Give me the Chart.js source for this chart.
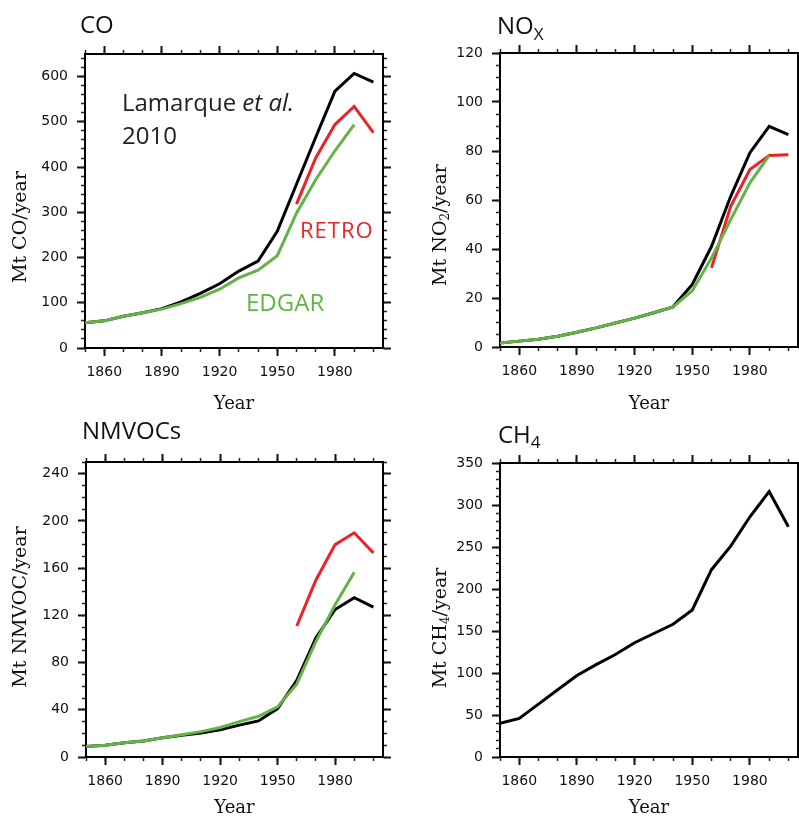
<!DOCTYPE html>
<html>
<head>
<meta charset="utf-8">
<script src="https://cdn.jsdelivr.net/npm/chart.js@4.4.1/dist/chart.umd.min.js"></script>
<style>
  html, body { margin: 0; padding: 0; background: #fff; }
  #wrap { position: relative; width: 799px; height: 817px; overflow: hidden; }
  canvas { position: absolute; }
</style>
</head>
<body>
<div id="wrap">
  <canvas id="co" width="400" height="410" style="left:0;top:0"></canvas>
  <canvas id="nox" width="399" height="410" style="left:400px;top:0"></canvas>
  <canvas id="voc" width="400" height="407" style="left:0;top:410px"></canvas>
  <canvas id="ch4" width="399" height="407" style="left:400px;top:410px"></canvas>
</div>
<script>
// decadal emissions
const years = [1850, 1860, 1870, 1880, 1890, 1900, 1910, 1920, 1930, 1940, 1950, 1960, 1970, 1980, 1990, 2000];

const coLamarque = [56, 60, 70, 78, 87, 102, 121, 142, 170, 192, 258, 362, 466, 568, 607, 588];
const coRetro    = [null, null, null, null, null, null, null, null, null, null, null, 318, 420, 494, 534, 476];
const coEdgar    = [56, 60, 70, 78, 86, 98, 112, 130, 155, 172, 204, 298, 372, 436, 494, null];

const noxLamarque = [1.6, 2.4, 3.2, 4.4, 6, 7.8, 9.8, 11.8, 14, 16.4, 25.5, 41, 61.5, 79.3, 90.1, 86.7];
const noxRetro    = [null, null, null, null, null, null, null, null, null, null, null, 32.3, 57.4, 72.4, 78.2, 78.5];
const noxEdgar    = [1.6, 2.4, 3.2, 4.4, 6, 7.8, 9.8, 11.8, 14, 16.4, 23, 36.3, 52, 67, 78.2, null];

const vocLamarque = [9, 10, 12, 13.6, 16.4, 18.4, 20.4, 23, 27, 30.6, 41, 65, 101, 125, 135, 127];
const vocRetro    = [null, null, null, null, null, null, null, null, null, null, null, 111, 150, 180, 190, 173];
const vocEdgar    = [9, 10, 12, 13.6, 16.4, 18.8, 21.5, 25, 30, 34.5, 42.5, 62, 98, 129, 156.5, null];

const ch4Lamarque = [40, 46, 63, 80, 97, 110, 122, 136, 147, 158, 175, 223, 251, 286, 316, 274];

// tick labels
const xMajorTicks = [1860, 1890, 1920, 1950, 1980];
const coYTicks  = [0, 100, 200, 300, 400, 500, 600];
const noxYTicks = [0, 20, 40, 60, 80, 100, 120];
const vocYTicks = [0, 40, 80, 120, 160, 200, 240];
const ch4YTicks = [0, 50, 100, 150, 200, 250, 300, 350];

const BLACK = '#000000', RED = '#ec2227', GREEN = '#62b446';

function range(a, b, step) {
  const out = [];
  for (let v = a; v <= b + 1e-9; v += step) out.push(v);
  return out;
}

function ticksAt(values) {
  return function (scale) { scale.ticks = values.map(v => ({ value: v })); };
}
function fixWidth(w) {
  return function (s) { s.width = w; s.paddingTop = 0; s.paddingBottom = 0; };
}
function fixHeight(h) {
  return function (s) { s.height = h; s.paddingLeft = 0; s.paddingRight = 0; };
}

// plain text drawn on top of the chart (titles, notes, y titles with subscripts)
function drawRich(ctx, it) {
  ctx.save();
  ctx.translate(it.x, it.y);
  if (it.rot) ctx.rotate(it.rot);
  ctx.textBaseline = it.base || 'alphabetic';
  ctx.textAlign = 'left';
  if (it.spacing) ctx.letterSpacing = it.spacing;
  let w = 0;
  it.parts.forEach(p => { ctx.font = p.font; w += ctx.measureText(p.t).width; });
  let cx = it.align === 'center' ? -w / 2 : 0;
  it.parts.forEach(p => {
    ctx.font = p.font;
    ctx.fillStyle = p.color || it.color || '#111';
    ctx.fillText(p.t, cx, p.dy || 0);
    cx += ctx.measureText(p.t).width;
  });
  ctx.restore();
}
function notes(items) {
  return { id: 'notes', afterDraw(chart) { items.forEach(it => drawRich(chart.ctx, it)); } };
}

const tickFont = { family: 'DejaVu Sans', size: 14 };
const majorGrid = { drawOnChartArea: false, drawTicks: true, tickLength: 8, tickWidth: 2, tickColor: '#111' };
const minorGrid = { drawOnChartArea: false, drawTicks: true, tickLength: 4, tickWidth: 1.5, tickColor: '#222' };
const border = { display: true, width: 2, color: '#000' };

function makePanel(id, p) {
  const xr = { type: 'linear', min: 1850, max: 2005 };
  const yr = { type: 'linear', min: 0, max: p.yMax };
  const xMinor = range(1850, 2000, 10);
  const yMinor = range(0, p.yMax, p.yMinorStep);
  const scales = {
    x: Object.assign({}, xr, {
      position: 'bottom', weight: 1,
      afterBuildTicks: ticksAt(xMajorTicks), afterFit: fixHeight(p.bottomH),
      grid: majorGrid, border: border,
      ticks: { font: tickFont, color: '#111', padding: 8, maxRotation: 0, autoSkip: false, callback: v => String(v) },
      title: { display: true, text: 'Year', color: '#111', font: { family: 'DejaVu Serif', size: 18 },
               padding: { top: 0, bottom: p.yearPad } }
    }),
    xMinor: Object.assign({}, xr, {
      position: 'bottom', weight: 0, afterBuildTicks: ticksAt(xMinor), afterFit: fixHeight(0),
      grid: minorGrid, border: { display: false }, ticks: { display: false }
    }),
    xTop: Object.assign({}, xr, {
      position: 'top', weight: 0, afterBuildTicks: ticksAt(xMajorTicks), afterFit: fixHeight(0),
      grid: majorGrid, border: border, ticks: { display: false }
    }),
    xTopMinor: Object.assign({}, xr, {
      position: 'top', weight: 0, afterBuildTicks: ticksAt(xMinor), afterFit: fixHeight(0),
      grid: minorGrid, border: { display: false }, ticks: { display: false }
    }),
    y: Object.assign({}, yr, {
      position: 'left', weight: 1,
      afterBuildTicks: ticksAt(p.yTicks), afterFit: fixWidth(p.leftW),
      grid: majorGrid, border: border,
      ticks: { font: tickFont, color: '#111', padding: 9, autoSkip: false, callback: v => String(v) }
    }),
    yMinor: Object.assign({}, yr, {
      position: 'left', weight: 0, afterBuildTicks: ticksAt(yMinor), afterFit: fixWidth(0),
      grid: minorGrid, border: { display: false }, ticks: { display: false }
    }),
    yRight: Object.assign({}, yr, {
      position: 'right', weight: 0, afterBuildTicks: ticksAt(p.yTicks), afterFit: fixWidth(0),
      grid: majorGrid, border: border, ticks: { display: false }
    }),
    yRightMinor: Object.assign({}, yr, {
      position: 'right', weight: 0, afterBuildTicks: ticksAt(yMinor), afterFit: fixWidth(0),
      grid: minorGrid, border: { display: false }, ticks: { display: false }
    })
  };

  const datasets = p.series.map(s => ({
    data: years.map((yv, i) => ({ x: yv, y: s.values[i] })).filter(d => d.y !== null),
    borderColor: s.color,
    borderWidth: 3,
    pointRadius: 0,
    tension: 0,
    fill: false,
    xAxisID: 'x',
    yAxisID: 'y'
  }));

  return new Chart(document.getElementById(id), {
    type: 'line',
    data: { datasets: datasets },
    options: {
      responsive: false,
      animation: false,
      events: [],
      layout: { padding: { left: 0, right: p.padRight, top: p.top, bottom: 0 } },
      plugins: { legend: { display: false }, tooltip: { enabled: false } },
      scales: scales
    },
    plugins: [notes(p.notes)]
  });
}

const titleFont = "24px 'Open Sans'";
const subFont = "17px 'Open Sans'";
const yTitleFont = "19px 'DejaVu Serif'";
const ySubFont = "12px 'DejaVu Serif'";
const ROT = -Math.PI / 2;

// CO
makePanel('co', {
  yMax: 650, yTicks: coYTicks, yMinorStep: 20,
  leftW: 85, padRight: 17, top: 54, bottomH: 62, yearPad: -5,
  series: [
    { values: coEdgar, color: GREEN },
    { values: coRetro, color: RED },
    { values: coLamarque, color: BLACK }
  ],
  notes: [
    { x: 80, y: 33, parts: [{ t: 'CO', font: titleFont }] },
    { x: 122, y: 111, color: '#222', parts: [
      { t: 'Lamarque ', font: "24px 'Open Sans'" },
      { t: 'et al.', font: "italic 24px 'Open Sans'" }] },
    { x: 122, y: 144, color: '#222', parts: [{ t: '2010', font: "24px 'Open Sans'" }] },
    { x: 300, y: 238, spacing: '1px', parts: [{ t: 'RETRO', font: "22px 'Open Sans'", color: RED }] },
    { x: 246, y: 311, parts: [{ t: 'EDGAR', font: "24px 'Open Sans'", color: GREEN }] },
    { x: 21, y: 227, rot: ROT, align: 'center', base: 'middle', parts: [{ t: 'Mt CO/year', font: yTitleFont }] }
  ]
});

// NOx
makePanel('nox', {
  yMax: 120, yTicks: noxYTicks, yMinorStep: 5,
  leftW: 100, padRight: 1, top: 53, bottomH: 63, yearPad: -5,
  series: [
    { values: noxEdgar, color: GREEN },
    { values: noxRetro, color: RED },
    { values: noxLamarque, color: BLACK }
  ],
  notes: [
    { x: 97, y: 34, parts: [{ t: 'NO', font: titleFont }, { t: 'X', font: subFont, dy: 6 }] },
    { x: 41, y: 225, rot: ROT, align: 'center', base: 'middle', parts: [
      { t: 'Mt NO', font: yTitleFont }, { t: '2', font: ySubFont, dy: 5 }, { t: '/year', font: yTitleFont }] }
  ]
});

// NMVOCs
makePanel('voc', {
  yMax: 250, yTicks: vocYTicks, yMinorStep: 10,
  leftW: 86, padRight: 17, top: 52, bottomH: 60, yearPad: -2,
  series: [
    { values: vocEdgar, color: GREEN },
    { values: vocRetro, color: RED },
    { values: vocLamarque, color: BLACK }
  ],
  notes: [
    { x: 82, y: 29, parts: [{ t: 'NMVOCs', font: titleFont }] },
    { x: 21, y: 197, rot: ROT, align: 'center', base: 'middle', parts: [{ t: 'Mt NMVOC/year', font: yTitleFont }] }
  ]
});

// CH4
makePanel('ch4', {
  yMax: 350, yTicks: ch4YTicks, yMinorStep: 10,
  leftW: 100, padRight: 1, top: 53, bottomH: 60, yearPad: -2,
  series: [
    { values: ch4Lamarque, color: BLACK }
  ],
  notes: [
    { x: 98, y: 33, parts: [{ t: 'CH', font: titleFont }, { t: '4', font: subFont, dy: 5 }] },
    { x: 41, y: 218, rot: ROT, align: 'center', base: 'middle', parts: [
      { t: 'Mt CH', font: yTitleFont }, { t: '4', font: ySubFont, dy: 5 }, { t: '/year', font: yTitleFont }] }
  ]
});
</script>
</body>
</html>
